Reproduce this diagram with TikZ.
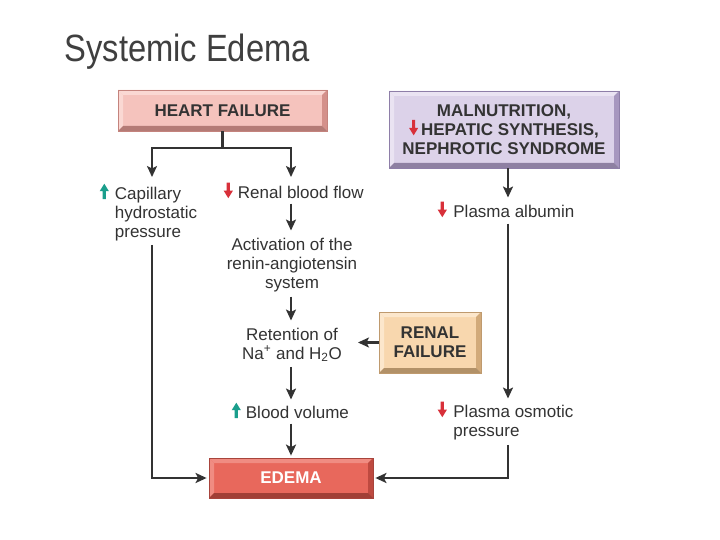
\documentclass[tikz,border=0pt]{standalone}
\usepackage{fontspec}
\setmainfont{Liberation Sans}
\newfontfamily\titlefont[FakeStretch=0.86]{Liberation Sans}
\usetikzlibrary{arrows.meta,positioning}

\definecolor{ink}{HTML}{333333}
\definecolor{titlegray}{HTML}{3F3F3F}
\definecolor{risecol}{HTML}{1A9E8C}
\definecolor{fallcol}{HTML}{D8303A}
% box colours: face, light bevel, dark bevel, border
\definecolor{heartface}{HTML}{F5C3BD}
\definecolor{heartlight}{HTML}{FAD8D3}
\definecolor{heartdark}{HTML}{D4918B}
\definecolor{heartline}{HTML}{C4837D}
\definecolor{malface}{HTML}{DCD2E9}
\definecolor{mallight}{HTML}{EAE3F2}
\definecolor{maldark}{HTML}{A797BF}
\definecolor{malline}{HTML}{8E7EA8}
\definecolor{renalface}{HTML}{F8D7AE}
\definecolor{renallight}{HTML}{FCE7CC}
\definecolor{renaldark}{HTML}{D2AA7A}
\definecolor{renalline}{HTML}{BF9A6E}
\definecolor{edemaface}{HTML}{E8685C}
\definecolor{edemalight}{HTML}{F08C82}
\definecolor{edemadark}{HTML}{BE4A40}
\definecolor{edemaline}{HTML}{A8443C}

\newcommand{\rise}{\tikz[baseline=0pt]\fill[risecol] (-1.6pt,0pt) -- (1.6pt,0pt) -- (1.6pt,8pt) -- (4.6pt,8pt) -- (0pt,15.5pt) -- (-4.6pt,8pt) -- (-1.6pt,8pt) -- cycle;}
\newcommand{\fall}{\tikz[baseline=0pt]\fill[fallcol] (-1.6pt,15.5pt) -- (1.6pt,15.5pt) -- (1.6pt,7.5pt) -- (4.6pt,7.5pt) -- (0pt,0pt) -- (-4.6pt,7.5pt) -- (-1.6pt,7.5pt) -- cycle;}

\tikzset{
  bevel/.style 2 args={path picture={
    \fill[#1] (path picture bounding box.north west) -- (path picture bounding box.north east)
      -- ([shift={(-5pt,-5pt)}]path picture bounding box.north east) -- ([shift={(5pt,-5pt)}]path picture bounding box.north west) -- cycle;
    \fill[#1] (path picture bounding box.north west) -- (path picture bounding box.south west)
      -- ([shift={(5pt,5pt)}]path picture bounding box.south west) -- ([shift={(5pt,-5pt)}]path picture bounding box.north west) -- cycle;
    \fill[#2] (path picture bounding box.north east) -- (path picture bounding box.south east)
      -- ([shift={(-5pt,5pt)}]path picture bounding box.south east) -- ([shift={(-5pt,-5pt)}]path picture bounding box.north east) -- cycle;
    \fill[#2!85!black] (path picture bounding box.south west) -- (path picture bounding box.south east)
      -- ([shift={(-5pt,5pt)}]path picture bounding box.south east) -- ([shift={(5pt,5pt)}]path picture bounding box.south west) -- cycle;
  }},
  cause/.style={rectangle, line width=0.8pt, inner sep=0pt, align=center, text=ink,
    font=\fontsize{17}{19}\selectfont\bfseries},
  txt/.style={inner sep=0pt, text=ink, font=\fontsize{17}{19}\selectfont},
  flow/.style={draw=ink, line width=2.7pt, -{Stealth[length=11pt,width=10pt,inset=2.5pt]}},
  split/.style={flow, {Stealth[length=11pt,width=10pt,inset=2.5pt]}-{Stealth[length=11pt,width=10pt,inset=2.5pt]}}
}

\begin{document}
\begin{tikzpicture}[x=1pt,y=-1pt]
  \useasboundingbox[fill=white] (0,0) rectangle (720,540);

  \node[anchor=base west, text=titlegray, font=\fontsize{38}{40}\titlefont] (title) at (61,62) {Systemic Edema};

  % the four boxes
  \node[cause, draw=heartline, fill=heartface, bevel={heartlight}{heartdark},
    minimum width=209pt, minimum height=41pt] (heart) at (222.5,110.5) {HEART FAILURE};
  \node[cause, draw=malline, fill=malface, bevel={mallight}{maldark},
    minimum width=230pt, minimum height=77pt] (mal) at (504,129.5) {MALNUTRITION,\\\fall\,HEPATIC SYNTHESIS,\\NEPHROTIC SYNDROME};
  \node[cause, draw=renalline, fill=renalface, bevel={renallight}{renaldark},
    minimum width=102pt, minimum height=61pt] (renal) at (430,342.5) {RENAL\\FAILURE};
  \node[cause, draw=edemaline, fill=edemaface, bevel={edemalight}{edemadark}, text=white,
    minimum width=164pt, minimum height=40pt] (edema) at (291,478) {EDEMA};

  % the texts
  \node[txt, align=left, anchor=north west] (cap) at (99.5,183.5) {\rise\hspace{6pt}Capillary\\\hphantom{\rise\hspace{6pt}}hydrostatic\\\hphantom{\rise\hspace{6pt}}pressure};
  \node[txt, anchor=north west] (flow) at (223.5,182.5) {\fall\hspace{5pt}Renal blood flow};
  \node[txt, align=center, anchor=north] (act) at (292,237.5) {Activation of the\\renin-angiotensin\\system};
  \node[txt, align=center, anchor=north] (ret) at (292,327.5) {Retention of\\Na\textsuperscript{+} and H\textsubscript{2}O};
  \node[txt, anchor=north west] (vol) at (231.5,402.5) {\rise\hspace{5pt}Blood volume};
  \node[txt, anchor=north west] (alb) at (437.5,201.5) {\fall\hspace{6.5pt}Plasma albumin};
  \node[txt, align=left, anchor=north west] (osm) at (437.5,401.5) {\fall\hspace{6.5pt}Plasma osmotic\\\hphantom{\fall\hspace{6.5pt}}pressure};

  \coordinate (fork) at (222.5,148);
  \coordinate (capin) at (152,177);
  \coordinate (flowin) at (291,177);
  \coordinate (rcol) at (508,0);

  % connectors
  \draw[flow, -] (heart.south) -- (fork);
  \draw[split] (capin) |- (fork) -| (flowin);
  \draw[flow] ([yshift=-5pt]flow.south -| flowin) -- ([yshift=7pt]act.north -| flowin);
  \draw[flow] ([yshift=-5pt]act.south -| flowin) -- ([yshift=7pt]ret.north -| flowin);
  \draw[flow] ([yshift=-5pt]ret.south -| flowin) -- ([yshift=3pt]vol.north -| flowin);
  \draw[flow] ([yshift=-5pt]vol.south -| flowin) -- ([yshift=2pt]edema.north -| flowin);
  \draw[flow] (renal.west) -- ([xshift=16pt]ret.east |- renal.west);
  \draw[flow] ([yshift=-4pt]cap.south -| capin) |- ([xshift=-2pt]edema.west);
  \draw[flow] (mal.south -| rcol) -- ([yshift=4pt]alb.north -| rcol);
  \draw[flow] ([yshift=-6pt]alb.south -| rcol) -- ([yshift=3pt]osm.north -| rcol);
  \draw[flow] ([yshift=-5pt]osm.south -| rcol) |- ([xshift=2pt]edema.east);
\end{tikzpicture}
\end{document}
